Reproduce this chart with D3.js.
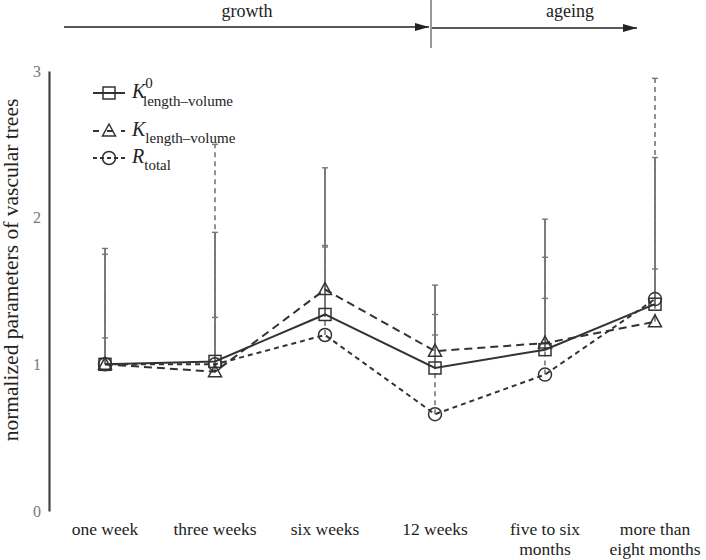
<!DOCTYPE html>
<html><head><meta charset="utf-8">
<script src="https://cdn.jsdelivr.net/npm/d3@7"></script>
<style>body{margin:0;background:#fff}svg{display:block}</style>
</head><body>
<svg id="c" width="706" height="560"></svg>
<script>
const categories = ["one week", "three weeks", "six weeks", "12 weeks", "five to six months", "more than eight months"];
const categoryLines = [["one week"], ["three weeks"], ["six weeks"], ["12 weeks"], ["five to six", "months"], ["more than", "eight months"]];
const k0Values = [1.0, 1.02, 1.34, 0.975, 1.10, 1.41];
const kValues  = [1.0, 0.95, 1.51, 1.09, 1.145, 1.29];
const rValues  = [1.0, 1.0, 1.20, 0.66, 0.93, 1.445];
const k0Upper = [1.79, 1.90, 2.34, 1.54, 1.99, 2.41];
const kUpper  = [1.75, 1.32, 1.81, 1.34, 1.73, 1.65];
const rUpper  = [1.18, 2.50, 1.80, 1.20, 1.45, 2.95];
const yTicks = [0, 1, 2, 3];
const yLabel = "normalized parameters of vascular trees";
const phases = ["growth", "ageing"];

(function () {
const svg = d3.select("#c");
const x = d3.scalePoint().domain(categories).range([105, 655]);
const y = d3.scaleLinear().domain([0, 3]).range([511, 71]);
const serif = "'Liberation Serif', 'Times New Roman', serif";

const series = [
  {vals: k0Values, up: k0Upper, dash: null, sym: "square"},
  {vals: kValues, up: kUpper, dash: "8,5", sym: "triangle"},
  {vals: rValues, up: rUpper, dash: "5,4", sym: "circle"}
];

// y axis
const yAxis = d3.axisLeft(y).tickValues(yTicks).tickSize(0).tickPadding(8).tickFormat(d3.format("d"));
const ga = svg.append("g").attr("transform", "translate(49,0)").call(yAxis);
ga.select(".domain").attr("stroke", "#444").attr("stroke-width", 2.2);
ga.selectAll("text").attr("font-family", serif).attr("font-size", 16).attr("fill", "#777");

svg.append("text").attr("transform", "translate(18,270) rotate(-90)")
  .attr("text-anchor", "middle").attr("font-family", serif).attr("font-size", 21.5).attr("fill", "#222")
  .text(yLabel);

// x labels
const xl = svg.append("g");
categories.forEach((c, i) => {
  categoryLines[i].forEach((ln, j) => {
    xl.append("text").attr("x", x(c)).attr("y", 535 + j * 20).attr("text-anchor", "middle")
      .attr("font-family", serif).attr("font-size", 17.5).attr("fill", "#222").text(ln);
  });
});

// error bars
const eb = svg.append("g");
series.forEach(s => {
  categories.forEach((c, i) => {
    eb.append("line").attr("x1", x(c)).attr("x2", x(c)).attr("y1", y(s.vals[i])).attr("y2", y(s.up[i]))
      .attr("stroke", "#777").attr("stroke-width", 1.6).attr("stroke-dasharray", s.dash);
    eb.append("line").attr("x1", x(c) - 3).attr("x2", x(c) + 3).attr("y1", y(s.up[i])).attr("y2", y(s.up[i]))
      .attr("stroke", "#777").attr("stroke-width", 1.4);
  });
});
categories.forEach((c, i) => {
  eb.append("line").attr("x1", x(c)).attr("x2", x(c)).attr("y1", y(k0Values[i])).attr("y2", y(k0Upper[i]))
    .attr("stroke", "#777").attr("stroke-width", 1.6);
});

// lines
const line = d3.line().x((d, i) => x(categories[i])).y(d => y(d));
series.forEach(s => {
  svg.append("path").attr("d", line(s.vals)).attr("fill", "none").attr("stroke", "#333")
    .attr("stroke-width", 2).attr("stroke-dasharray", s.dash);
});

function drawSym(g, type, cx, cy) {
  if (type === "square") {
    g.append("rect").attr("x", cx - 6).attr("y", cy - 6).attr("width", 12).attr("height", 12)
      .attr("fill", "none").attr("stroke", "#333").attr("stroke-width", 1.5);
  } else if (type === "triangle") {
    g.append("path").attr("d", `M${cx},${cy - 7}L${cx + 6.5},${cy + 5}L${cx - 6.5},${cy + 5}Z`)
      .attr("fill", "none").attr("stroke", "#333").attr("stroke-width", 1.5);
  } else {
    g.append("circle").attr("cx", cx).attr("cy", cy).attr("r", 6.5)
      .attr("fill", "none").attr("stroke", "#333").attr("stroke-width", 1.5);
  }
}
const mk = svg.append("g");
series.forEach(s => {
  categories.forEach((c, i) => drawSym(mk, s.sym, x(c), y(s.vals[i])));
});

// legend
const lg = svg.append("g");
const legRows = [
  {y: 93, dash: null, sym: "square", main: "K", sup: "0", sub: "length–volume"},
  {y: 131, dash: "6,8", sym: "triangle", main: "K", sup: null, sub: "length–volume"},
  {y: 158, dash: "4,3", sym: "circle", main: "R", sup: null, sub: "total"}
];
legRows.forEach(r => {
  lg.append("line").attr("x1", 93).attr("x2", 125).attr("y1", r.y).attr("y2", r.y)
    .attr("stroke", "#333").attr("stroke-width", 2).attr("stroke-dasharray", r.dash);
  drawSym(lg, r.sym, 109, r.y);
  const t = lg.append("text").attr("x", 132).attr("y", r.y + 5).attr("font-family", serif).attr("fill", "#222");
  t.append("tspan").attr("font-style", "italic").attr("font-size", 20).text(r.main);
  if (r.sup) {
    t.append("tspan").attr("font-size", 15).attr("dy", -10).text(r.sup);
    t.append("tspan").attr("font-size", 15).attr("x", 143).attr("dy", 18).text(r.sub);
  } else {
    t.append("tspan").attr("font-size", 15).attr("dy", 7).text(r.sub);
  }
});

// top phase annotation
const ann = svg.append("g");
const defs = svg.append("defs");
defs.append("marker").attr("id", "ah").attr("viewBox", "0 0 14 8").attr("refX", 14).attr("refY", 4)
  .attr("markerWidth", 14).attr("markerHeight", 8).attr("markerUnits", "userSpaceOnUse").attr("orient", "auto")
  .append("path").attr("d", "M0,0L14,4L0,8Z").attr("fill", "#222");
ann.append("line").attr("x1", 64).attr("x2", 429).attr("y1", 27).attr("y2", 27)
  .attr("stroke", "#222").attr("stroke-width", 1.6).attr("marker-end", "url(#ah)");
ann.append("line").attr("x1", 432).attr("x2", 637).attr("y1", 28).attr("y2", 28)
  .attr("stroke", "#222").attr("stroke-width", 1.6).attr("marker-end", "url(#ah)");
ann.append("line").attr("x1", 431).attr("x2", 431).attr("y1", 0).attr("y2", 48)
  .attr("stroke", "#333").attr("stroke-width", 1);
ann.append("text").attr("x", 247).attr("y", 17).attr("text-anchor", "middle")
  .attr("font-family", serif).attr("font-size", 18).attr("fill", "#222").text(phases[0]);
ann.append("text").attr("x", 570).attr("y", 17).attr("text-anchor", "middle")
  .attr("font-family", serif).attr("font-size", 18).attr("fill", "#222").text(phases[1]);
})();
</script>
</body></html>
